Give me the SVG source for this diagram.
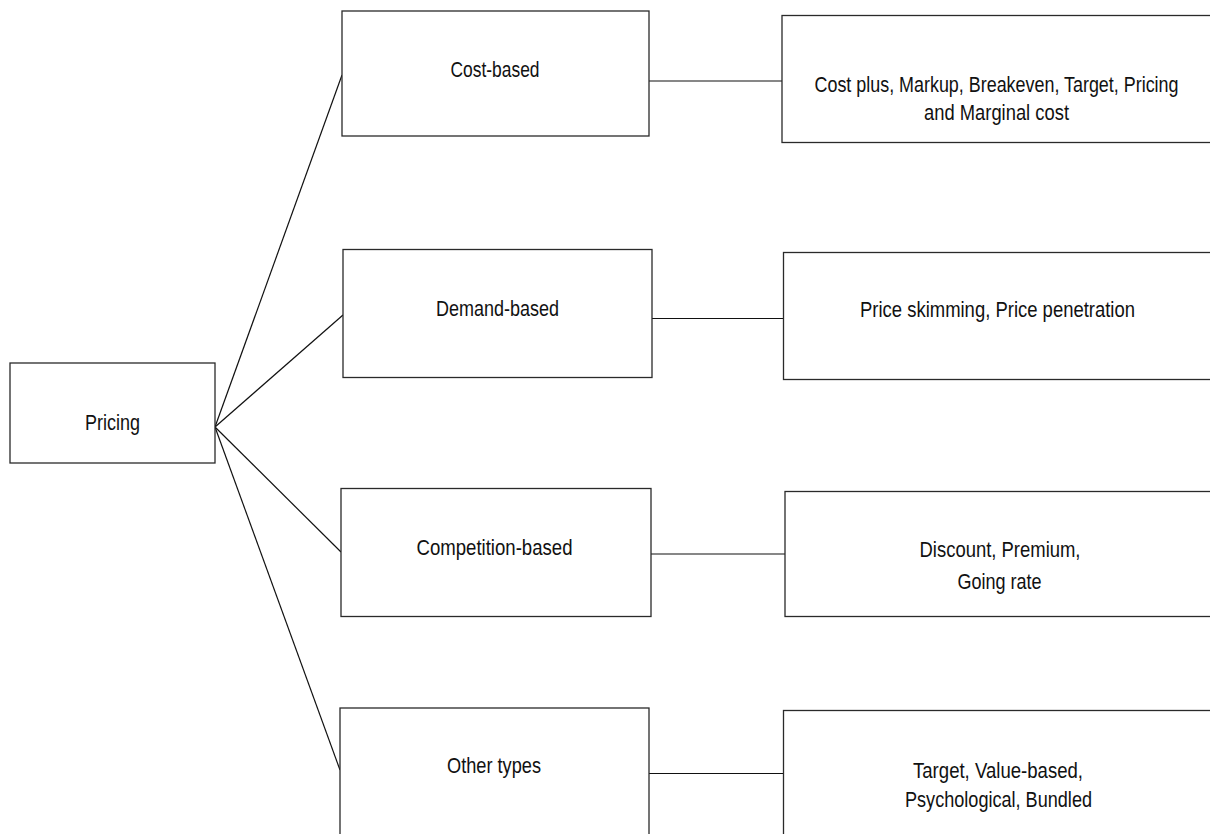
<svg xmlns="http://www.w3.org/2000/svg" width="1210" height="834" viewBox="0 0 1210 834">
<style>
.box{fill:#fff;stroke:#2a2a2a;stroke-width:1.3}
.ln{stroke:#111;stroke-width:1.2;fill:none}
text{font-family:"Liberation Sans",Arial,sans-serif;font-size:22px;fill:#111;text-anchor:middle}
</style>
<rect width="1210" height="834" fill="#fff"/>
<g id="connectors">
<line class="ln" x1="215" y1="427" x2="342" y2="75"/>
<line class="ln" x1="215" y1="427" x2="343" y2="315"/>
<line class="ln" x1="215" y1="427" x2="341" y2="552"/>
<line class="ln" x1="215" y1="427" x2="340" y2="770"/>
<line class="ln" x1="649" y1="81" x2="782" y2="81"/>
<line class="ln" x1="652" y1="318.5" x2="784" y2="318.5"/>
<line class="ln" x1="651" y1="554" x2="785" y2="554"/>
<line class="ln" x1="649" y1="773.5" x2="783" y2="773.5"/>
</g>
<g id="pricing">
<rect class="box" x="10" y="363" width="205" height="100"/>
<text x="112.5" y="430" textLength="55" lengthAdjust="spacingAndGlyphs">Pricing</text>
</g>
<g id="cost-based">
<rect class="box" x="342" y="11" width="307" height="125"/>
<text x="495" y="77" textLength="89" lengthAdjust="spacingAndGlyphs">Cost-based</text>
</g>
<g id="demand-based">
<rect class="box" x="343" y="249.5" width="309" height="128"/>
<text x="497.5" y="316" textLength="123" lengthAdjust="spacingAndGlyphs">Demand-based</text>
</g>
<g id="competition-based">
<rect class="box" x="341" y="488.5" width="310" height="128"/>
<text x="494.5" y="555" textLength="156" lengthAdjust="spacingAndGlyphs">Competition-based</text>
</g>
<g id="other-types">
<rect class="box" x="340" y="708" width="309" height="140"/>
<text x="494" y="773" textLength="94" lengthAdjust="spacingAndGlyphs">Other types</text>
</g>
<g id="cost-methods">
<rect class="box" x="782" y="15.5" width="440" height="127"/>
<text transform="translate(996.5 91.5) scale(0.815 1)">Cost plus, Markup, Breakeven, Target, Pricing</text>
<text x="996.5" y="120" textLength="145" lengthAdjust="spacingAndGlyphs">and Marginal cost</text>
</g>
<g id="demand-methods">
<rect class="box" x="783.5" y="252.5" width="440" height="127"/>
<text x="997.5" y="317" textLength="275" lengthAdjust="spacingAndGlyphs">Price skimming, Price penetration</text>
</g>
<g id="competition-methods">
<rect class="box" x="785" y="491.5" width="440" height="125"/>
<text x="1000" y="557" textLength="161" lengthAdjust="spacingAndGlyphs">Discount, Premium,</text>
<text transform="translate(999.5 588.5) scale(0.82 1)">Going rate</text>
</g>
<g id="other-methods">
<rect class="box" x="783.5" y="710.5" width="440" height="140"/>
<text x="998" y="778" textLength="170" lengthAdjust="spacingAndGlyphs">Target, Value-based,</text>
<text x="998.5" y="806.5" textLength="187" lengthAdjust="spacingAndGlyphs">Psychological, Bundled</text>
</g>
</svg>
